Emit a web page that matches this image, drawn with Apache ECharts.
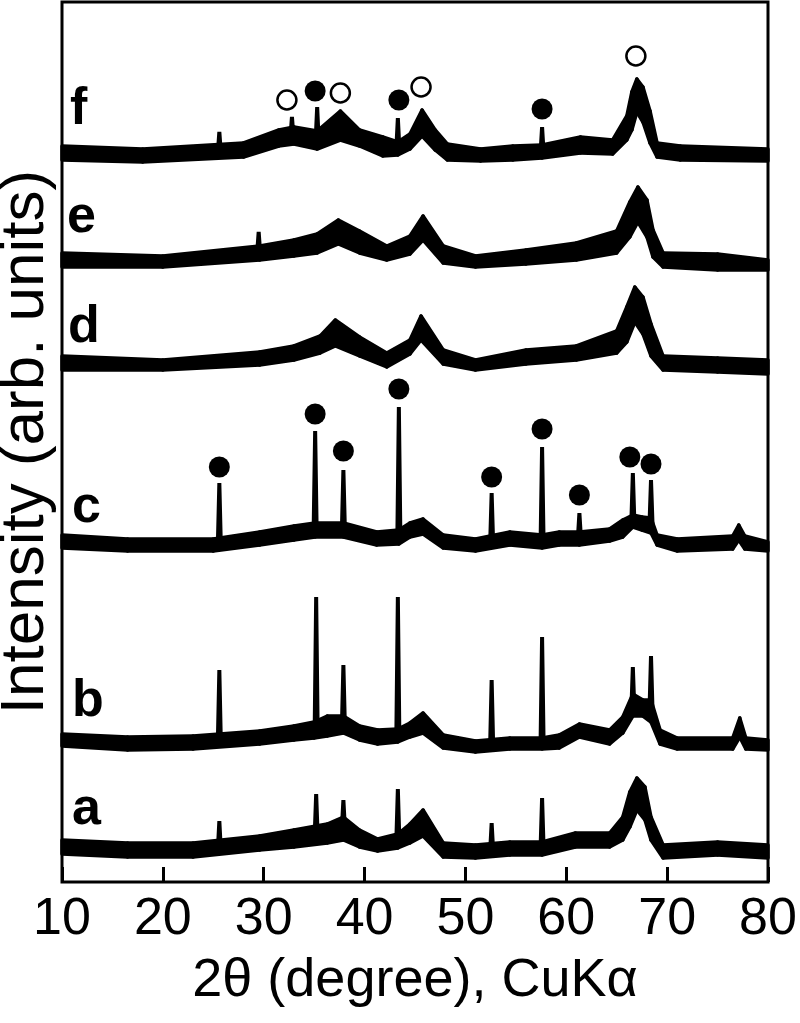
<!DOCTYPE html>
<html>
<head>
<meta charset="utf-8">
<script src="https://cdn.jsdelivr.net/npm/echarts@6/dist/echarts.min.js"></script>
<style>
  html, body { margin: 0; padding: 0; background: #fff; }
  #chart { width: 800px; height: 1023px; }
</style>
</head>
<body>
<div id="chart"></div>
<script>
// XRD patterns, intensity in arbitrary units (traces already stacked)
// each trace is a noisy band: lower and upper edge at each 2theta
var thetaA = [10,16.5,23,29.6,33,36.3,37.9,39.5,41.3,43.3,44.5,45.8,47.8,51,54.4,57.6,60.9,64.3,65.6,66.3,67,67.8,68.4,69.6,75,80];
var hiA    = [42,39,39,46,52,58,65,52,43,48,58,72,39,37,40,40,49,49,65,90,104,95,65,37,40,37];
var loA    = [28,25,25,32,35,39,42,35,31,34,39,46,25,24,27,27,35,35,42,55,72,62,42,24,27,24];

var thetaB = [10,16.5,23,29.6,33,35,36.3,37.9,39.5,41.3,43.3,44.5,45.8,47.8,51,54.4,57.6,59.3,61.3,64.3,65.6,66.6,67.6,68.4,69.3,71,76.5,77.2,77.8,80];
var hiB    = [148,145,146,151,156,160,166,166,156,152,153,159,169,147,141,144,144,147,158,152,165,188,182,182,152,144,144,164,144,142];
var loB    = [136,132,133,138,142,144,146,149,142,138,140,145,149,134,130,133,133,134,145,138,149,166,166,160,138,133,133,145,133,132];

var thetaC = [10,16.5,25,29.6,33,35.1,37.9,41.2,43.4,44.5,45.8,47.8,51,54.4,57.6,59.3,61.3,64.3,65.6,66.6,67.5,68.4,69,71,76.5,77.1,77.7,80];
var hiC    = [347,343,343,350,356,359,359,350,352,359,363,347,343,350,347,350,350,353,362,367,365,364,347,343,346,357,346,340];
var loC    = [334,331,331,337,342,345,345,337,338,345,348,334,331,337,334,337,337,341,345,355,352,349,337,331,333,342,333,331];

var thetaD = [10,20,29.6,33,35.6,37.1,39.5,42.2,44.5,45.6,47.8,51,56,61,65,66,66.8,67.6,68.4,69.6,75,80];
var hiD    = [526,522,530,536,546,562,545,529,542,566,532,522,532,536,551,575,595,585,558,526,524,522];
var loD    = [512,512,517,522,529,536,526,515,528,542,518,512,518,522,529,540,560,548,526,512,510,508];

var thetaE = [10,20,29.6,33,35.3,37.4,39.5,42.2,44.5,45.8,47.8,51,56,61,65,66.3,67.1,68,68.6,69.6,75,80];
var hiE    = [629,626,636,642,648,662,651,636,646,666,636,626,632,639,651,680,695,682,652,629,628,622];
var loE    = [615,615,622,626,629,638,629,622,628,642,619,615,618,622,629,645,660,645,625,615,612,612];

var thetaF = [10,18,28,31.5,33,35.3,37.6,39.5,41.8,43.3,44.5,45.7,47,48.2,51.5,54.7,57.6,61.4,64.6,66,66.5,67,67.6,68.3,69,71.3,80];
var hiF    = [736,733,739,752,755,751,771,752,745,740,748,772,752,738,733,736,737,745,742,766,790,803,795,771,739,736,733];
var loF    = [722,720,725,736,738,733,742,736,726,727,733,746,732,722,721,722,724,729,728,742,752,770,760,739,725,722,721];

// sharp reflections: [2theta, base, top]
var spikesA = [[25.6,32,61],[35.2,46,88],[37.9,54,82],[43.3,42,93],[52.6,31,59],[57.6,34,84]];
var spikesB = [[25.6,140,212],[35.2,150,285],[37.9,155,217],[43.3,147,285],[52.6,137,202],[57.6,139,245],[66.6,172,215],[68.4,172,226]];
var spikesC = [[25.6,337,399],[35.1,352,451],[37.9,352,412],[43.4,345,475],[52.6,338,389],[57.6,339,435],[61.3,344,369],[66.6,360,409],[68.4,358,402]];
var spikesD = [];
var spikesE = [[29.5,629,650]];
var spikesF = [[25.6,729,750],[32.8,745,765],[35.3,742,775],[43.3,734,764],[57.6,730,755]];

// phase markers
var filledMarks = [[35.1,791],[43.4,782],[57.6,773],[25.6,415],[35.1,468],[37.9,431],[43.4,493],[52.6,405],[57.6,453],[61.3,387],[66.3,425],[68.4,418]];
var openMarks = [[32.3,782],[37.6,789],[45.6,795],[66.9,826]];

var traceNames = ['a', 'b', 'c', 'd', 'e', 'f'];
var traceLabelPos = [[72, 812], [72, 704], [72, 510], [68, 330], [67, 220], [70, 112]];

var thetas = [thetaA, thetaB, thetaC, thetaD, thetaE, thetaF];
var highs = [hiA, hiB, hiC, hiD, hiE, hiF];
var lows = [loA, loB, loC, loD, loE, loF];
var spikes = [spikesA, spikesB, spikesC, spikesD, spikesE, spikesF];

var myChart = echarts.init(document.getElementById('chart'));

// band between the lower and upper edge, one quad per step
function bandSeries(th, hi, lo, name) {
    return {
        name: name,
        type: 'custom',
        data: th.map(function (x, k) { return [x, lo[k], hi[k]]; }),
        encode: { x: 0, y: [1, 2] },
        renderItem: function (params, api) {
            var k = params.dataIndex;
            if (k >= th.length - 1) return null;
            var pts = [
                api.coord([th[k], hi[k]]),
                api.coord([th[k + 1], hi[k + 1]]),
                api.coord([th[k + 1], lo[k + 1]]),
                api.coord([th[k], lo[k]])
            ];
            return {
                type: 'polygon',
                shape: { points: pts },
                style: { fill: '#000', stroke: '#000', lineWidth: 3.5, lineJoin: 'round' }
            };
        },
        emphasis: { disabled: true },
        z: 2
    };
}

var series = [];
thetas.forEach(function (th, i) {
    series.push(bandSeries(th, highs[i], lows[i], traceNames[i]));
    spikes[i].forEach(function (s) {
        series.push({
            type: 'line',
            data: [[s[0] - 0.15, s[1]], [s[0], s[2]], [s[0] + 0.15, s[1]]],
            showSymbol: false,
            lineStyle: { color: '#000', width: 4 },
            emphasis: { disabled: true },
            z: 3
        });
    });
});
series.push({
    type: 'scatter',
    data: filledMarks,
    symbol: 'circle',
    symbolSize: 21,
    itemStyle: { color: '#000', opacity: 1 },
    emphasis: { disabled: true },
    z: 5
});
series.push({
    type: 'scatter',
    data: openMarks,
    symbol: 'circle',
    symbolSize: 19,
    itemStyle: { color: '#fff', borderColor: '#000', borderWidth: 2.5, opacity: 1 },
    emphasis: { disabled: true },
    z: 5
});

var option = {
    animation: false,
    backgroundColor: '#fff',
    grid: {
        left: 62, right: 32, top: 2, bottom: 141,
        outerBoundsMode: 'none',
        containLabel: false,
        show: true, borderColor: '#000', borderWidth: 3, backgroundColor: 'transparent'
    },
    xAxis: {
        type: 'value',
        min: 10, max: 80, interval: 10,
        name: '2\u03b8 (degree), CuK\u03b1',
        nameLocation: 'middle',
        nameGap: 72,
        nameTextStyle: { fontFamily: 'Liberation Sans', fontSize: 54, color: '#000' },
        axisLine: { show: false },
        axisTick: { show: true, inside: true, length: 15, lineStyle: { color: '#000', width: 3 } },
        axisLabel: { fontFamily: 'Liberation Sans', fontSize: 52, color: '#000', margin: 12 },
        splitLine: { show: false }
    },
    yAxis: {
        type: 'value',
        min: 0, max: 880,
        name: 'Intensity (arb. units)',
        nameLocation: 'middle',
        nameGap: 5,
        nameTextStyle: { fontFamily: 'Liberation Sans', fontSize: 62, color: '#000' },
        axisLine: { show: false },
        axisTick: { show: false },
        axisLabel: { show: false },
        splitLine: { show: false }
    },
    graphic: traceNames.map(function (n, i) {
        return {
            type: 'text',
            left: traceLabelPos[i][0],
            top: traceLabelPos[i][1] - 28,
            style: { text: n, fontFamily: 'Liberation Sans', fontWeight: 'bold', fontSize: 52, fill: '#000' },
            z: 10
        };
    }),
    series: series
};

myChart.setOption(option);
</script>
</body>
</html>
